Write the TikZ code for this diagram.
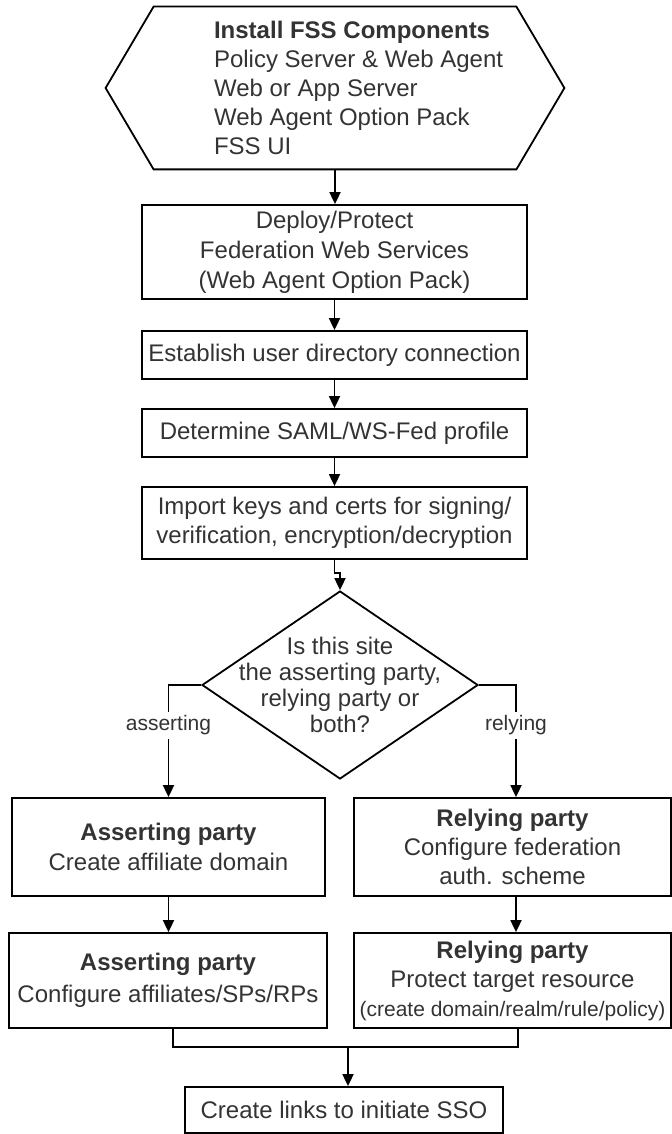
\documentclass[tikz,border=0pt]{standalone}
\usepackage{fontspec}
\setmainfont{Liberation Sans}
\usetikzlibrary{arrows.meta,shapes.geometric}

\begin{document}
\begin{tikzpicture}[x=1pt, y=1pt,
    every node/.style={text=black!80, font=\fontsize{12}{15}\selectfont},
    box/.style={draw=black, line width=0.9pt, inner sep=0pt, align=center},
    arr/.style={line width=0.9pt, -{Triangle[length=6pt,width=5.5pt]}},
    lbl/.style={fill=white, inner sep=2pt, font=\fontsize{10.5}{12}\selectfont}]
    \useasboundingbox (0,0) rectangle (336,-567);
    % Install step (hexagon)
    \node[minimum width=181pt, minimum height=81pt, inner sep=0pt] (hexbody) at (167.5,-44) {};
    \draw[line width=0.9pt] (hexbody.north west) -- (hexbody.north east) -- ([xshift=24pt]hexbody.east)
        -- (hexbody.south east) -- (hexbody.south west) -- ([xshift=-24pt]hexbody.west) -- cycle;
    \node[anchor=west, align=left, font=\fontsize{12}{14.5}\selectfont] (install) at (103.5,-44)
        {\textbf{Install FSS Components}\\Policy Server \& Web Agent\\Web or App Server\\Web Agent Option Pack\\FSS UI};
    % Main column
    \node[box, minimum width=192.5pt, minimum height=47pt] (deploy) at (167.25,-126)
        {Deploy/Protect\\Federation Web Services\\(Web Agent Option Pack)};
    \node[box, minimum width=192.5pt, minimum height=24pt] (dir) at (167.25,-177.5) {Establish user directory connection};
    \node[box, minimum width=192.5pt, minimum height=24pt] (profile) at (167.25,-216.5) {Determine SAML/WS-Fed profile};
    \node[box, minimum width=192.5pt, minimum height=36pt, font=\fontsize{12}{14.5}\selectfont] (keys) at (167.25,-261.5)
        {Import keys and certs for signing/\\verification, encryption/decryption};
    % Decision
    \node[diamond, draw=black, line width=0.9pt, minimum width=138pt, minimum height=94pt, inner sep=0pt] (site) at (170,-342.5) {};
    \node[align=center, font=\fontsize{12}{13}\selectfont] (sitetext) at (site) {Is this site\\the asserting party,\\relying party or\\both?};
    % Asserting and relying branches
    \node[box, minimum width=156.5pt, minimum height=49pt] (apdomain) at (84.25,-423.5)
        {\textbf{Asserting party}\\Create affiliate domain};
    \node[box, minimum width=158.5pt, minimum height=49pt, font=\fontsize{12}{14.5}\selectfont] (rpscheme) at (256.25,-423.5)
        {\textbf{Relying party}\\Configure federation\\auth. scheme};
    \node[box, minimum width=159pt, minimum height=47.5pt, font=\fontsize{12}{16}\selectfont] (apaffil) at (84,-490.25)
        {\textbf{Asserting party}\\Configure affiliates/SPs/RPs};
    \node[box, minimum width=158.5pt, minimum height=47.5pt, font=\fontsize{12}{14.5}\selectfont] (rpprotect) at (256.25,-490.25)
        {\textbf{Relying party}\\Protect target resource\\{\fontsize{10.5}{14}\selectfont(create domain/realm/rule/policy)}};
    \node[box, minimum width=159pt, minimum height=23pt] (sso) at (172,-555) {Create links to initiate SSO};
    \coordinate (merge) at (174,-523.5);
    % Connectors
    \draw[arr] (hexbody.south) -- (hexbody.south |- deploy.north);
    \draw[arr] (deploy) -- (dir);
    \draw[arr] (dir) -- (profile);
    \draw[arr] (profile) -- (keys);
    \draw[arr] (keys.south) -- ++(0,-6.5) -| (site.north);
    \draw[arr] (site.west) -| (apdomain.north) node[lbl, pos=0.68] (aslbl) {asserting};
    \draw[arr] (site.east) -| ([xshift=1.75pt]rpscheme.north) node[lbl, pos=0.68] (rplbl) {relying};
    \draw[arr] (apdomain.south) -- (apdomain.south |- apaffil.north);
    \draw[arr] ([xshift=1.75pt]rpscheme.south) -- ([xshift=1.75pt]rpprotect.north);
    \draw[line width=0.9pt] ([xshift=2.5pt]apaffil.south) |- (merge) -| ([xshift=2.75pt]rpprotect.south);
    \draw[arr] (merge) -- (merge |- sso.north);
\end{tikzpicture}
\end{document}
